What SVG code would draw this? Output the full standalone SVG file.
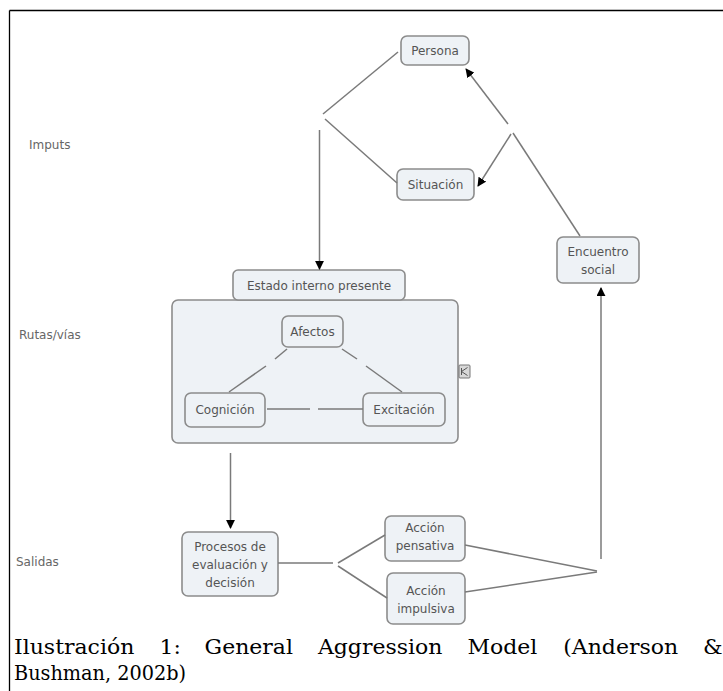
<svg xmlns="http://www.w3.org/2000/svg" width="723" height="691" viewBox="0 0 723 691">
<style>
.node rect{fill:#eef2f6;stroke:#8c8c8c;stroke-width:1.6}
.node text,.lbl{font-family:"DejaVu Sans",Verdana,sans-serif;font-size:12px;fill:#555;text-anchor:middle}
.lbl{text-anchor:start;fill:#666}
.conn line{stroke:#7a7a7a;stroke-width:1.5;fill:none}
.cap{font-family:"DejaVu Serif","Liberation Serif",serif;font-size:20px;fill:#000}
</style>
<defs>
<marker id="ah" viewBox="0 0 10 10" refX="9" refY="5" markerWidth="9" markerHeight="9" markerUnits="userSpaceOnUse" orient="auto">
<path d="M0,0 L10,5 L0,10 z" fill="#000"/>
</marker>
</defs>
<rect width="723" height="691" fill="#fff"/>
<g id="frame" stroke="#000" stroke-width="1.3">
<line x1="9.5" y1="10.5" x2="723" y2="10.5"/>
<line x1="9.5" y1="10.5" x2="9.5" y2="691"/>
</g>
<text class="lbl" x="29" y="149">Imputs</text>
<text class="lbl" x="19" y="339">Rutas/vías</text>
<text class="lbl" x="16" y="566">Salidas</text>

<g class="node" id="persona"><rect x="401" y="36" width="68" height="29" rx="6"/><text x="435" y="55">Persona</text></g>
<g class="node" id="situacion"><rect x="397" y="169" width="77" height="31" rx="6"/><text x="435.5" y="189">Situación</text></g>
<g class="node" id="encuentro"><rect x="557" y="237" width="82" height="46" rx="6"/><text x="598" y="256">Encuentro</text><text x="598" y="274">social</text></g>
<g class="node" id="estado"><rect x="172" y="300" width="286" height="143" rx="6"/><rect x="233" y="270" width="172" height="30" rx="5"/><text x="319" y="290">Estado interno presente</text>
<rect x="459" y="365" width="11" height="13" rx="1" style="fill:#d8d8d8;stroke:#777;stroke-width:1"/>
<path d="M461.5,368 L461.5,375 M461.5,371.5 L467.5,367.5 M461.5,371.5 L467.5,375.5" stroke="#555" stroke-width="1" fill="none"/>
</g>
<g class="node" id="afectos"><rect x="282" y="316" width="61" height="31" rx="6"/><text x="312.5" y="336">Afectos</text></g>
<g class="node" id="cognicion"><rect x="185" y="393" width="80" height="34" rx="6"/><text x="225" y="414">Cognición</text></g>
<g class="node" id="excitacion"><rect x="363" y="393" width="82" height="33" rx="6"/><text x="404" y="414">Excitación</text></g>
<g class="node" id="procesos"><rect x="182" y="532" width="96" height="64" rx="6"/><text x="230" y="551">Procesos de</text><text x="230" y="569">evaluación y</text><text x="230" y="587">decisión</text></g>
<g class="node" id="pensativa"><rect x="385" y="516" width="80" height="45" rx="6"/><text x="425" y="532">Acción</text><text x="425" y="550">pensativa</text></g>
<g class="node" id="impulsiva"><rect x="387" y="573" width="78" height="51" rx="6"/><text x="426" y="595">Acción</text><text x="426" y="613">impulsiva</text></g>

<g class="conn" id="connectors">
<line x1="398" y1="52" x2="323" y2="114"/>
<line x1="325" y1="119" x2="397" y2="183"/>
<line x1="319.5" y1="130" x2="319.5" y2="269" marker-end="url(#ah)"/>
<line x1="580" y1="236" x2="513" y2="133"/>
<line x1="508" y1="124" x2="466" y2="69" marker-end="url(#ah)"/>
<line x1="511" y1="134" x2="478" y2="186" marker-end="url(#ah)"/>
<line x1="287" y1="349" x2="275" y2="359"/>
<line x1="266" y1="366" x2="229" y2="392"/>
<line x1="342" y1="349" x2="357" y2="359"/>
<line x1="366" y1="366" x2="402" y2="392"/>
<line x1="267" y1="409" x2="310" y2="409"/>
<line x1="318" y1="409" x2="363" y2="409"/>
<line x1="230.5" y1="453" x2="230.5" y2="528" marker-end="url(#ah)"/>
<line x1="278" y1="563" x2="333" y2="563"/>
<line x1="338" y1="563" x2="385" y2="535"/>
<line x1="338" y1="566" x2="387" y2="598"/>
<line x1="465" y1="545" x2="597" y2="571"/>
<line x1="465" y1="592" x2="597" y2="572"/>
<line x1="601" y1="559" x2="601" y2="288" marker-end="url(#ah)"/>
</g>

<g transform="scale(1.1 1)">
<text class="cap" y="654"><tspan x="12.7">Ilustración</tspan><tspan x="145">1:</tspan><tspan x="186">General</tspan><tspan x="289">Aggression</tspan><tspan x="425">Model</tspan><tspan x="512">(Anderson</tspan><tspan x="639">&amp;</tspan></text>
</g>
<text class="cap" x="14" y="680" textLength="172" lengthAdjust="spacingAndGlyphs">Bushman, 2002b)</text>
</svg>
